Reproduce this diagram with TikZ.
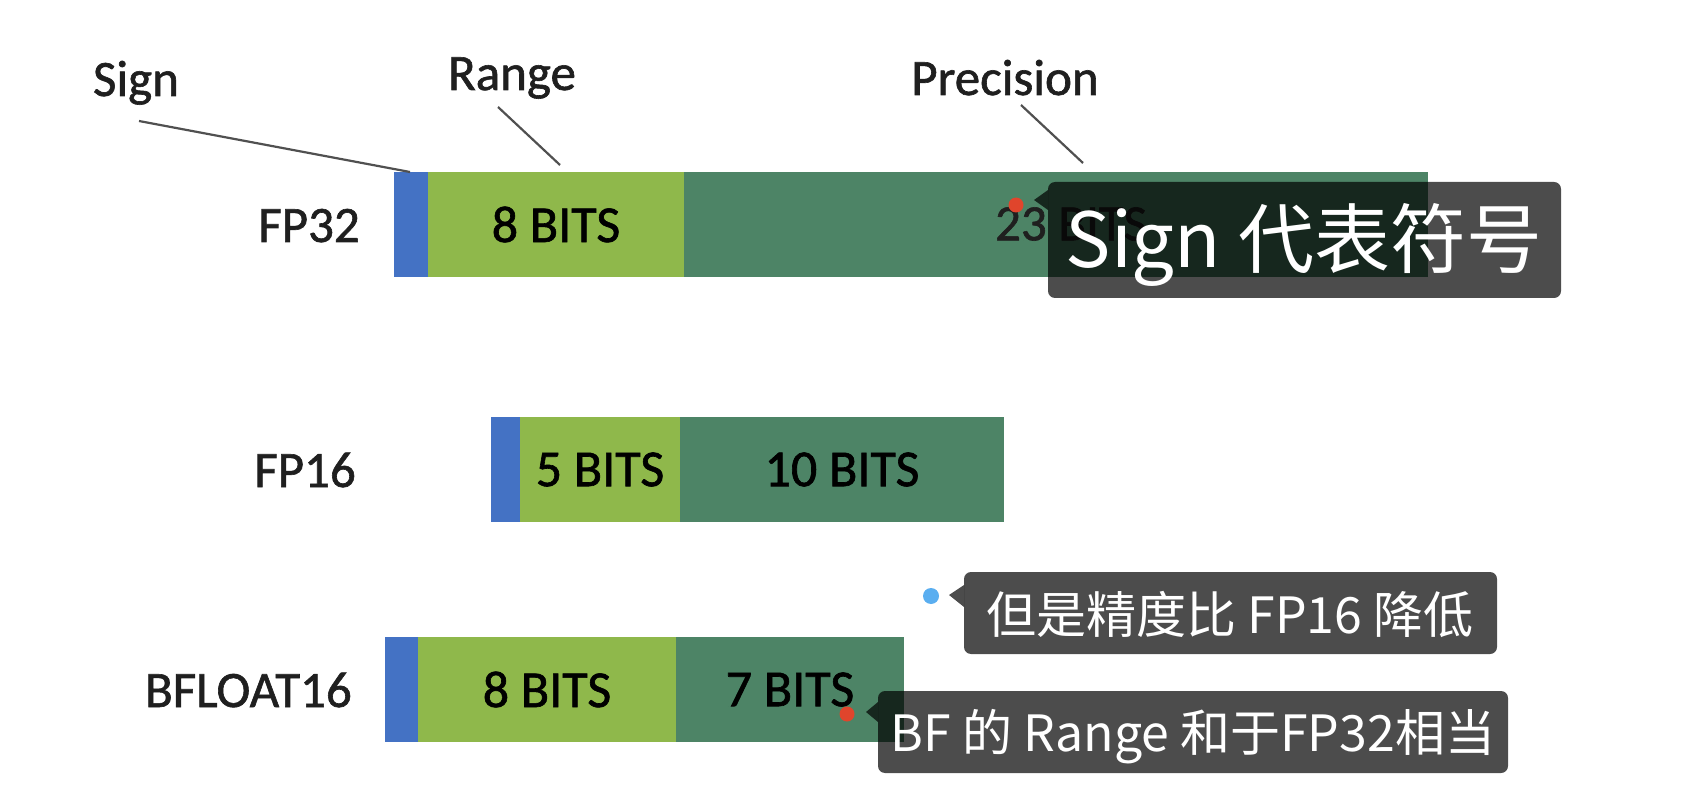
\documentclass[tikz,border=0pt]{standalone}
\usepackage{fontspec}
\setmainfont{Carlito}
\newfontface\barfont{Carlito}[FakeBold=1.2]
\newfontfamily\cjk{Noto Sans CJK SC}
\usetikzlibrary{calc}
\definecolor{signblue}{HTML}{4472C4}
\definecolor{rangegreen}{HTML}{8FB84B}
\definecolor{precgreen}{HTML}{4D8466}
\definecolor{leadergray}{HTML}{505050}
\definecolor{dotred}{HTML}{E0452C}
\definecolor{dotblue}{HTML}{5AAEF0}
\begin{document}
\begin{tikzpicture}[x=1pt,y=-1pt,
  bar/.style={inner sep=0, outer sep=0, minimum height=105, anchor=north west,
    text=black, font=\barfont\fontsize{52}{60}\selectfont},
  signbar/.style={bar, fill=signblue},
  rangebar/.style={bar, fill=rangegreen},
  precbar/.style={bar, fill=precgreen},
  lbl/.style={inner sep=0, text=black!88, font=\barfont\fontsize{51}{60}\selectfont},
  leader/.style={draw=leadergray, line width=2.2},
  tipbox/.style={fill=black, fill opacity=0.7, rounded corners=7, inner sep=0, outer sep=0, anchor=north west},
  tipptr/.style={fill=black, fill opacity=0.7},
  tiptext/.style={text=white, inner sep=0, anchor=base},
  dot/.style={circle, inner sep=0, minimum size=15}
]
\useasboundingbox (0,0) rectangle (1698,810);

% FP32
\node[signbar, minimum width=34] (s32) at (394,172) {};
\node[rangebar, minimum width=256] (r32) at (428,172) {8 BITS};
\node[precbar, minimum width=744] (p32) at (684,172) {};
\node[lbl] (t23) at (1071,224) {23 BITS};
\node[lbl, anchor=base east] (fp32) at (360,242) {FP32};

% FP16
\node[signbar, minimum width=29] (s16) at (491,417) {};
\node[rangebar, minimum width=160] (r16) at (520,417) {5 BITS};
\node[precbar, minimum width=324] (p16) at (680,417) {10 BITS};
\node[lbl, anchor=base east] (fp16) at (356,487) {FP16};

% BFLOAT16
\node[signbar, minimum width=33] (sbf) at (385,637) {};
\node[rangebar, minimum width=258] (rbf) at (418,637) {8 BITS};
\node[precbar, minimum width=228] (pbf) at (676,637) {7 BITS};
\node[lbl, anchor=base east] (bf16) at (352,707) {BFLOAT16};

% top labels and leaders
\node[lbl, anchor=base] (lsign) at (136,96) {Sign};
\node[lbl, anchor=base] (lrange) at (512,90) {Range};
\node[lbl, anchor=base] (lprec) at (1005,95) {Precision};
\coordinate (ls1) at (139,121);
\coordinate (ls2) at (410,172);
\coordinate (lr1) at (498,107);
\coordinate (lr2) at (560,165);
\coordinate (lp1) at (1021,105);
\coordinate (lp2) at (1083,163);
\draw[leader] (ls1) -- (ls2);
\draw[leader] (lr1) -- (lr2);
\draw[leader] (lp1) -- (lp2);

% tooltip 1
\node[tipbox, minimum width=513, minimum height=116] (b1) at (1048,182) {};
\fill[tipptr] ($(b1.north west)+(0,8)$) -- ($(b1.north west)+(-14,18)$) -- ($(b1.north west)+(0,28)$) -- cycle;
\node[tiptext, font=\cjk\fontsize{76}{80}\selectfont] (tx1) at (1304,268) {Sign 代表符号};
\node[dot, fill=dotred] (d1) at (1016,205) {};

% tooltip 2
\node[tipbox, minimum width=533, minimum height=82] (b2) at (964,572) {};
\fill[tipptr] ($(b2.north west)+(0,13)$) -- ($(b2.north west)+(-15,23)$) -- ($(b2.north west)+(0,35)$) -- cycle;
\node[tiptext, font=\cjk\fontsize{50}{60}\selectfont] (tx2) at (1230,633) {但是精度比 FP16 降低};
\node[dot, fill=dotblue, minimum size=16] (d2) at (931,596) {};

% tooltip 3
\node[tipbox, minimum width=630, minimum height=82] (b3) at (878,691) {};
\fill[tipptr] ($(b3.north west)+(0,11)$) -- ($(b3.north west)+(-12,21)$) -- ($(b3.north west)+(0,31)$) -- cycle;
\node[tiptext, font=\cjk\fontsize{50}{60}\selectfont] (tx3) at (1193,751) {BF 的 Range 和于FP32相当};
\node[dot, fill=dotred] (d3) at (847,714) {};
\end{tikzpicture}
\end{document}
